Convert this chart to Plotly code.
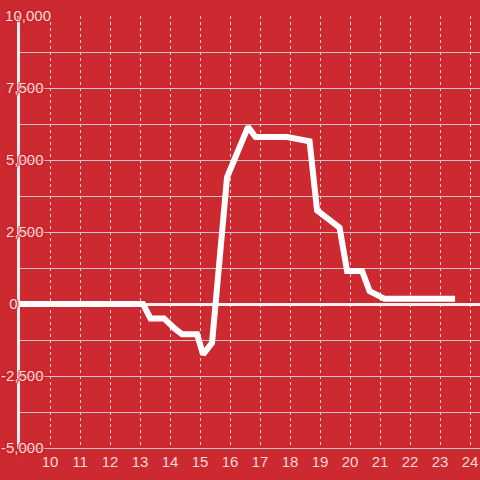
import plotly.graph_objects as go

# data
hours = [9, 13.1, 13.35, 13.8, 14.15, 14.4, 14.9, 15.1, 15.4, 15.9, 16.6, 16.85,
         17.9, 18.65, 18.9, 19.65, 19.9, 20.4, 20.65, 21.15, 23.5]
values = [0, 0, -500, -500, -850, -1050, -1050, -1750, -1350, 4400, 6150, 5800,
          5800, 5650, 3250, 2650, 1150, 1150, 450, 180, 180]

x_ticks = list(range(10, 25))
y_tickvals = [-5000, -2500, 0, 2500, 5000, 7500, 10000]
y_ticktext = ["-5,000\u2002", "-2,500\u2002", "0" + "\u00a0" * 8, "2,500\u2002",
              "5,000\u2002", "7,500\u2002", "10,000"]

BG = "#CC2A30"
TXT = "#F3D9D9"
HALO = ", ".join([f"0 0 2px {BG}"] * 6)

fig = go.Figure()
fig.add_trace(go.Scatter(x=hours, y=values, mode="lines",
                         line=dict(color="white", width=6), showlegend=False,
                         hoverinfo="skip"))

fig.update_layout(
    width=480, height=480,
    margin=dict(l=20, r=0, t=16, b=32, autoexpand=False),
    paper_bgcolor=BG, plot_bgcolor=BG,
    font=dict(family="Liberation Sans, Arial, sans-serif", size=15, color=TXT),
)
fig.update_xaxes(
    range=[9, 24.33], tickvals=x_ticks, showgrid=True, automargin=False,
    gridcolor="#EBD3D3", griddash="dot", gridwidth=1,
    zeroline=False, showline=True, linecolor="#D0C6C6", linewidth=1,
    ticks="", tickfont=dict(size=15, color=TXT),
)
fig.update_yaxes(
    range=[-5000, 10000], tickvals=y_tickvals, ticktext=y_ticktext, automargin=False,
    showgrid=True, gridcolor="#D0C6C6", gridwidth=1,
    minor=dict(dtick=1250, tick0=0, showgrid=True, gridcolor="#D0C6C6", gridwidth=1),
    zeroline=True, zerolinecolor="#F2F0F0", zerolinewidth=3,
    showline=True, linecolor="#F2F0F0", linewidth=3,
    ticks="", tickfont=dict(size=15, color=TXT, shadow=HALO), ticklabelstandoff=-37,
)

fig.write_html(
    "out.html",
    config={"displayModeBar": False},
    post_script="document.body.style.margin='0';document.body.style.backgroundColor='#CC2A30';",
)
